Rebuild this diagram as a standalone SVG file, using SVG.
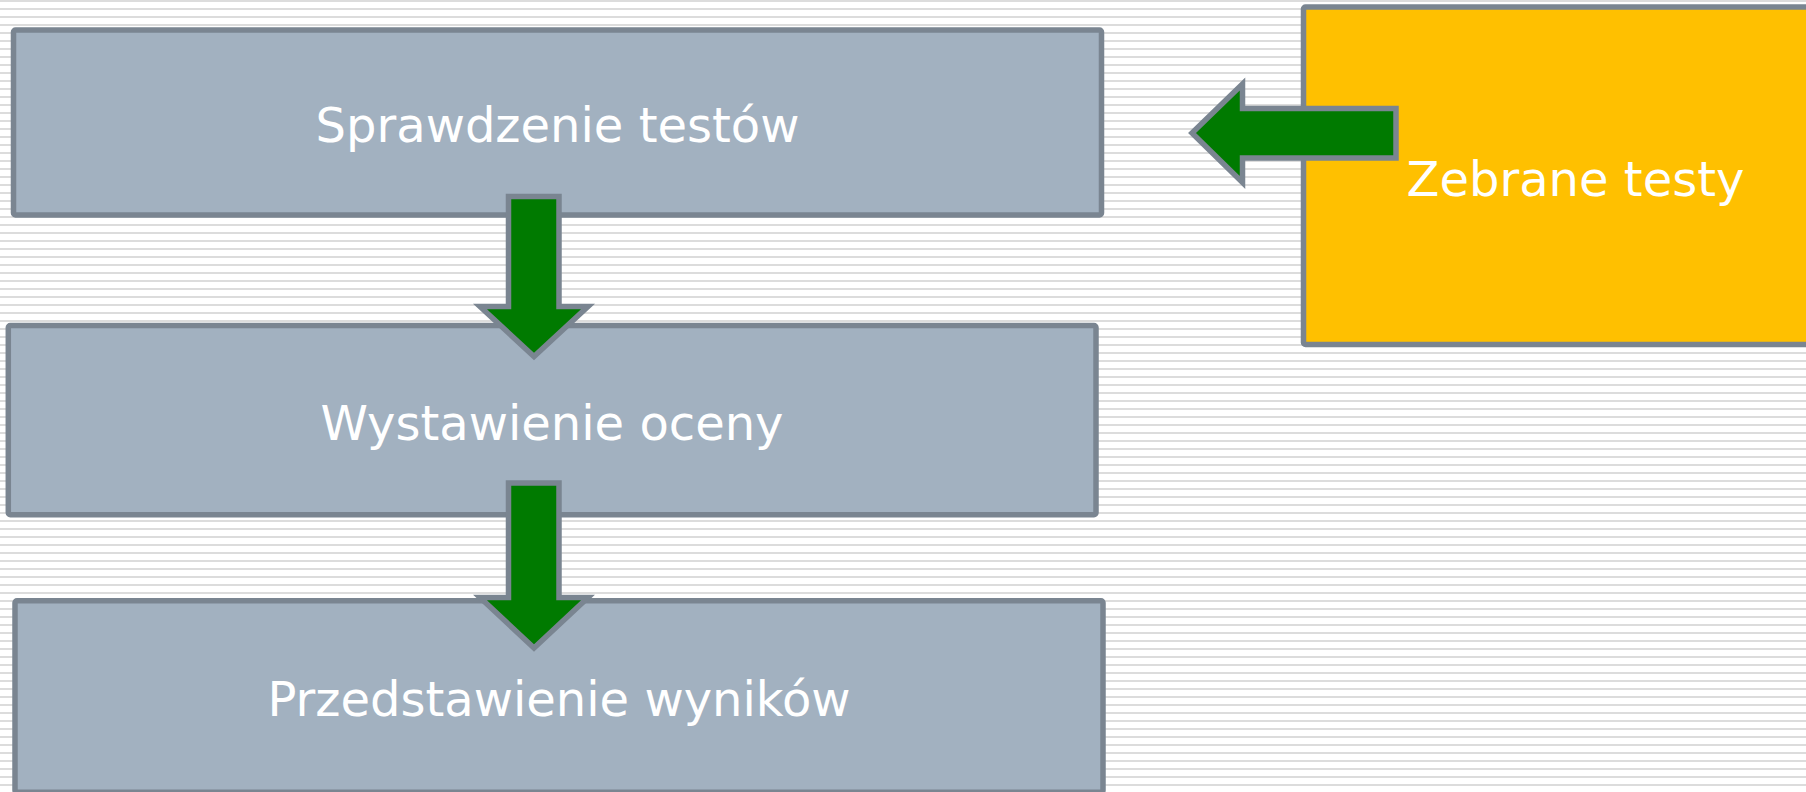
<svg xmlns="http://www.w3.org/2000/svg" width="1806" height="792" viewBox="0 0 1806 792">
  <defs>
    <!-- ruled paper backdrop: thin grey rule every 8px -->
    <pattern id="rules" x="0" y="0" width="8" height="8" patternUnits="userSpaceOnUse">
      <rect x="0" y="0" width="8" height="2" fill="#dcdcdc"/>
    </pattern>
  </defs>
  <style>
    .step { fill: #a2b1c0; stroke: #7a8591; stroke-width: 5.5; }
    .source { fill: #ffc000; stroke: #7a8591; stroke-width: 5.5; }
    .label { font-family: "DejaVu Sans", Verdana, sans-serif; font-size: 48px; fill: #ffffff; text-anchor: middle; }
    .flow { fill: #007a00; stroke: #7a8591; stroke-width: 5.5; stroke-linejoin: miter; }
  </style>

  <rect x="0" y="0" width="1806" height="792" fill="#ffffff"/>
  <rect x="0" y="0" width="1806" height="792" fill="url(#rules)"/>

  <g id="node-sprawdzenie">
    <rect class="step" x="13.5" y="30" width="1088" height="185" rx="2"/>
    <text class="label" x="557.5" y="142">Sprawdzenie testów</text>
  </g>

  <g id="node-wystawienie">
    <rect class="step" x="8.3" y="325.5" width="1087.7" height="189.2" rx="2"/>
    <text class="label" x="552" y="440">Wystawienie oceny</text>
  </g>

  <g id="node-przedstawienie">
    <rect class="step" x="15" y="600.8" width="1088" height="191.5" rx="2"/>
    <text class="label" x="559" y="716">Przedstawienie wyników</text>
  </g>

  <g id="node-zebrane">
    <rect class="source" x="1303.5" y="7" width="544" height="337.5" rx="2"/>
    <text class="label" x="1575.5" y="196">Zebrane testy</text>
  </g>

  <g id="connectors">
    <!-- collected tests feed into checking -->
    <path class="flow" d="M1396,108.5 L1242.5,108.5 L1242.5,84 L1192,133 L1242.5,182.5 L1242.5,158 L1396,158 Z"/>
    <!-- checking to grading -->
    <path class="flow" d="M508.5,196.5 L559,196.5 L559,306.5 L588,306.5 L534,356.5 L480,306.5 L508.5,306.5 Z"/>
    <!-- grading to presenting results -->
    <path class="flow" d="M508.5,483 L559,483 L559,597.5 L588,597.5 L534,648 L480,597.5 L508.5,597.5 Z"/>
  </g>
</svg>
